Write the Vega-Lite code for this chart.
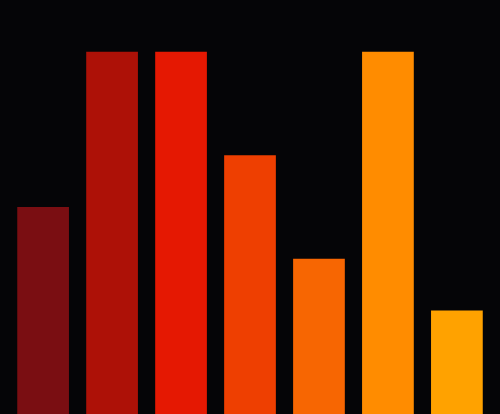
{
  "$schema": "https://vega.github.io/schema/vega-lite/v6.json",
  "width": 500,
  "height": 414,
  "autosize": {"type": "fit", "contains": "padding"},
  "padding": 0,
  "background": "#050507",
  "data": {
    "values": [
      {"cat": "A", "value": 4},
      {"cat": "B", "value": 7},
      {"cat": "C", "value": 7},
      {"cat": "D", "value": 5},
      {"cat": "E", "value": 3},
      {"cat": "F", "value": 7},
      {"cat": "G", "value": 2}
    ]
  },
  "mark": {"type": "bar"},
  "encoding": {
    "x": {
      "field": "cat",
      "type": "nominal",
      "axis": null,
      "scale": {"paddingInner": 0.25, "paddingOuter": 0.25}
    },
    "y": {
      "field": "value",
      "type": "quantitative",
      "axis": null,
      "scale": {"domain": [0, 8], "nice": false}
    },
    "color": {
      "field": "cat",
      "type": "nominal",
      "legend": null,
      "scale": {
        "range": ["#7a0e12", "#ad1107", "#e51802", "#ee3f01", "#f76602", "#ff8c00", "#ffa200"]
      }
    }
  },
  "config": {"view": {"stroke": null}}
}
